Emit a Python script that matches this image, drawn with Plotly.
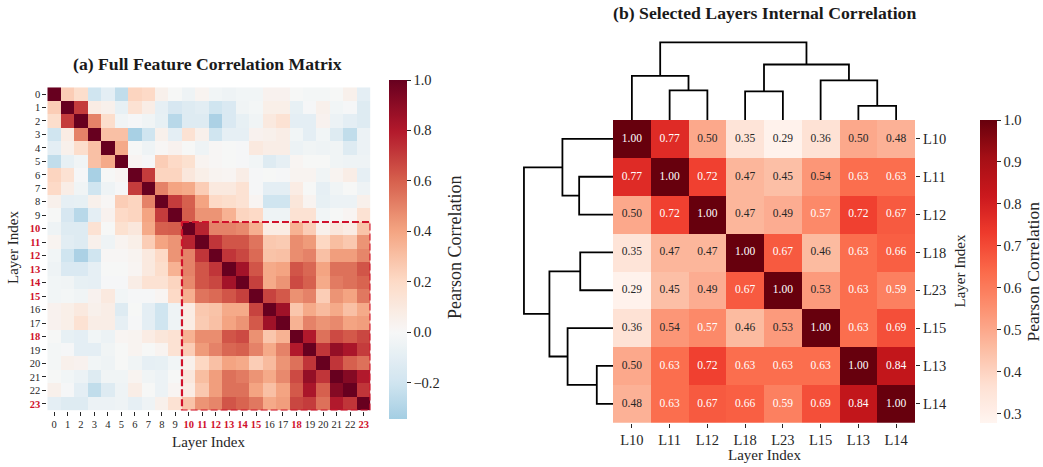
import plotly.graph_objects as go

W, H = 1043, 467
FONT = "Liberation Serif"
DARK = "#262626"
RED = "#d0112b"

# ---------------- data ----------------
layer_ticks = ["0", "1", "2", "3", "4", "5", "6", "7", "8", "9", "10", "11",
               "12", "13", "14", "15", "16", "17", "18", "19", "20", "21", "22", "23"]
selected_layers = ["10", "11", "12", "13", "14", "15", "18", "23"]

corr_full = [
    [1.00, 0.25, 0.18, -0.20, -0.10, -0.25, 0.22, 0.20, 0.05, 0.00, -0.05, 0.03, -0.03, -0.05, -0.03, -0.03, 0.04, 0.04, 0.00, -0.02, -0.02, 0.00, 0.05, -0.10],
    [0.25, 1.00, 0.70, 0.08, 0.05, -0.08, 0.15, 0.07, -0.09, -0.17, -0.13, -0.11, -0.20, -0.15, -0.04, -0.02, 0.06, 0.06, -0.08, -0.01, 0.05, -0.03, -0.01, -0.13],
    [0.18, 0.70, 1.00, 0.50, 0.18, -0.04, -0.01, -0.04, -0.08, -0.28, -0.13, -0.13, -0.32, -0.15, -0.08, -0.04, 0.10, 0.15, -0.10, -0.10, 0.04, -0.06, -0.10, -0.13],
    [-0.20, 0.08, 0.50, 1.00, 0.30, 0.30, -0.33, -0.20, 0.05, -0.10, 0.15, 0.05, -0.20, -0.09, -0.09, 0.04, 0.05, 0.07, -0.03, -0.10, -0.03, -0.13, -0.25, -0.06],
    [-0.10, 0.05, 0.18, 0.30, 1.00, 0.38, 0.00, -0.05, 0.01, 0.04, 0.00, -0.05, 0.01, 0.00, -0.01, 0.10, 0.07, 0.07, -0.06, -0.04, -0.05, -0.04, -0.13, -0.06],
    [-0.25, -0.08, -0.04, 0.30, 0.38, 1.00, 0.02, -0.01, 0.25, 0.20, 0.16, 0.03, 0.01, 0.00, -0.01, -0.03, -0.13, -0.09, 0.02, 0.00, 0.00, -0.04, -0.05, -0.05],
    [0.22, 0.15, -0.01, -0.33, 0.00, 0.02, 1.00, 0.70, 0.22, 0.22, 0.11, 0.06, 0.03, 0.02, 0.07, -0.01, 0.00, -0.01, 0.03, 0.03, -0.04, 0.03, 0.07, -0.09],
    [0.20, 0.07, -0.04, -0.20, -0.05, -0.01, 0.70, 1.00, 0.50, 0.40, 0.38, 0.25, 0.10, 0.10, 0.15, -0.01, -0.10, -0.10, 0.08, 0.00, -0.09, -0.04, 0.00, -0.05],
    [0.05, -0.09, -0.08, 0.05, 0.01, 0.25, 0.22, 0.50, 1.00, 0.70, 0.60, 0.40, 0.20, 0.18, 0.15, 0.02, -0.20, -0.20, 0.12, 0.03, -0.08, -0.06, -0.06, 0.05],
    [0.00, -0.17, -0.28, -0.10, 0.04, 0.20, 0.22, 0.40, 0.70, 1.00, 0.61, 0.45, 0.45, 0.35, 0.22, 0.20, -0.05, -0.05, 0.15, 0.15, -0.03, 0.00, 0.02, 0.15],
    [-0.05, -0.13, -0.13, 0.15, 0.00, 0.16, 0.11, 0.38, 0.60, 0.61, 1.00, 0.77, 0.50, 0.50, 0.48, 0.36, 0.08, 0.08, 0.35, 0.25, 0.05, 0.11, 0.08, 0.29],
    [0.03, -0.11, -0.13, 0.05, -0.05, 0.03, 0.06, 0.25, 0.40, 0.45, 0.77, 1.00, 0.72, 0.63, 0.63, 0.54, 0.27, 0.26, 0.47, 0.43, 0.21, 0.31, 0.27, 0.45],
    [-0.03, -0.20, -0.32, -0.20, 0.01, 0.01, 0.03, 0.10, 0.20, 0.45, 0.50, 0.72, 1.00, 0.72, 0.67, 0.57, 0.29, 0.30, 0.47, 0.50, 0.30, 0.42, 0.42, 0.49],
    [-0.05, -0.15, -0.15, -0.09, 0.00, 0.00, 0.02, 0.10, 0.18, 0.35, 0.50, 0.63, 0.72, 1.00, 0.84, 0.63, 0.38, 0.40, 0.63, 0.58, 0.40, 0.55, 0.55, 0.63],
    [-0.03, -0.04, -0.08, -0.09, -0.01, -0.01, 0.07, 0.15, 0.15, 0.22, 0.48, 0.63, 0.67, 0.84, 1.00, 0.69, 0.38, 0.45, 0.66, 0.60, 0.38, 0.52, 0.55, 0.59],
    [-0.03, -0.02, -0.04, 0.04, 0.10, -0.03, -0.01, -0.01, 0.02, 0.20, 0.36, 0.54, 0.57, 0.63, 0.69, 1.00, 0.68, 0.62, 0.46, 0.50, 0.25, 0.45, 0.40, 0.53],
    [0.04, 0.06, 0.10, 0.05, 0.07, -0.13, 0.00, -0.10, -0.20, -0.05, 0.08, 0.27, 0.29, 0.38, 0.38, 0.68, 1.00, 0.85, 0.28, 0.38, 0.32, 0.38, 0.30, 0.38],
    [0.04, 0.06, 0.15, 0.07, 0.07, -0.09, -0.01, -0.10, -0.20, -0.05, 0.08, 0.26, 0.30, 0.40, 0.45, 0.62, 0.85, 1.00, 0.35, 0.50, 0.45, 0.48, 0.40, 0.42],
    [0.00, -0.08, -0.10, -0.03, -0.06, 0.02, 0.03, 0.08, 0.12, 0.15, 0.35, 0.47, 0.47, 0.63, 0.66, 0.46, 0.28, 0.35, 1.00, 0.80, 0.55, 0.66, 0.62, 0.67],
    [-0.02, -0.01, -0.10, -0.10, -0.04, 0.00, 0.03, 0.00, 0.03, 0.15, 0.25, 0.43, 0.50, 0.58, 0.60, 0.50, 0.38, 0.50, 0.80, 1.00, 0.72, 0.88, 0.82, 0.70],
    [-0.02, 0.05, 0.04, -0.03, -0.05, 0.00, -0.04, -0.09, -0.08, -0.03, 0.05, 0.21, 0.30, 0.40, 0.38, 0.25, 0.32, 0.45, 0.55, 0.72, 1.00, 0.72, 0.60, 0.55],
    [0.00, -0.03, -0.06, -0.13, -0.04, -0.04, 0.03, -0.04, -0.06, 0.00, 0.11, 0.31, 0.42, 0.55, 0.52, 0.45, 0.38, 0.48, 0.66, 0.88, 0.72, 1.00, 0.92, 0.80],
    [0.05, -0.01, -0.10, -0.25, -0.13, -0.05, 0.07, 0.00, -0.06, 0.02, 0.08, 0.27, 0.42, 0.55, 0.55, 0.40, 0.30, 0.40, 0.62, 0.82, 0.60, 0.92, 1.00, 0.72],
    [-0.10, -0.13, -0.13, -0.06, -0.06, -0.05, -0.09, -0.05, 0.05, 0.15, 0.29, 0.45, 0.49, 0.63, 0.59, 0.53, 0.38, 0.42, 0.67, 0.70, 0.55, 0.80, 0.72, 1.00],
]
full_zmin, full_zmax = -0.345, 1.0
full_cbar_ticks = [-0.2, 0.0, 0.2, 0.4, 0.6, 0.8, 1.0]

sel_labels = ["L10", "L11", "L12", "L18", "L23", "L15", "L13", "L14"]
sel_corr = [
    [1.00, 0.77, 0.50, 0.35, 0.29, 0.36, 0.50, 0.48],
    [0.77, 1.00, 0.72, 0.47, 0.45, 0.54, 0.63, 0.63],
    [0.50, 0.72, 1.00, 0.47, 0.49, 0.57, 0.72, 0.67],
    [0.35, 0.47, 0.47, 1.00, 0.67, 0.46, 0.63, 0.66],
    [0.29, 0.45, 0.49, 0.67, 1.00, 0.53, 0.63, 0.59],
    [0.36, 0.54, 0.57, 0.46, 0.53, 1.00, 0.63, 0.69],
    [0.50, 0.63, 0.72, 0.63, 0.63, 0.63, 1.00, 0.84],
    [0.48, 0.63, 0.67, 0.66, 0.59, 0.69, 0.84, 1.00],
]
sel_zmin, sel_zmax = 0.278, 1.0
sel_cbar_ticks = [0.3, 0.4, 0.5, 0.6, 0.7, 0.8, 0.9, 1.0]

# linkage in display-leaf order: (child_a, child_b, merge height); new nodes numbered from 8
dendro_merges = [
    (1, 2, 0.380),
    (6, 7, 0.182),
    (3, 4, 0.368),
    (0, 8, 0.568),
    (5, 9, 0.510),
    (10, 12, 0.714),
    (11, 13, 1.000),
]

# ---------------- colour maps ----------------
RDBU_R = ["#053061", "#2166ac", "#4393c3", "#92c5de", "#d1e5f0", "#f7f7f7",
          "#fddbc7", "#f4a582", "#d6604d", "#b2182b", "#67001f"]
REDS = ["#fff5f0", "#fee0d2", "#fcbba1", "#fc9272", "#fb6a4a", "#ef3b2c",
        "#cb181d", "#a50f15", "#67000d"]


def _rgb(h):
    return tuple(int(h[i:i + 2], 16) for i in (1, 3, 5))


def _sample(colors, c):
    n = len(colors) - 1
    c = min(max(c, 0.0), 1.0)
    i = min(int(c * n), n - 1)
    t = c * n - i
    a, b = _rgb(colors[i]), _rgb(colors[i + 1])
    return "rgb(%d,%d,%d)" % tuple(round(a[k] + (b[k] - a[k]) * t) for k in range(3))


def make_scale(colors, c0, c1, n=60):
    return [[i / (n - 1), _sample(colors, c0 + (c1 - c0) * i / (n - 1))] for i in range(n)]


# diverging map centred on 0 (seaborn center=0)
full_scale = make_scale(RDBU_R, 0.5 + full_zmin / 2, 0.5 + full_zmax / 2)
sel_scale = make_scale(REDS, 0.0, 1.0)


def dendro_segments(merges, n):
    pos = {i: float(i) for i in range(n)}
    hgt = {i: 0.0 for i in range(n)}
    xs, ys = [], []
    for k, (a, b, h) in enumerate(merges):
        xs += [pos[a], pos[a], pos[b], pos[b], None]
        ys += [hgt[a], h, h, hgt[b], None]
        pos[n + k] = (pos[a] + pos[b]) / 2
        hgt[n + k] = h
    return xs, ys


# ---------------- layout geometry (pixels) ----------------
def px_x(p):
    return p / W


def px_y(p):
    return 1 - p / H


A_L, A_R, A_T, A_B = 47.3, 370.5, 87.3, 410.6
B_L, B_R, B_T, B_B = 613.0, 915.0, 120.0, 422.7
DEN_TOP = 38.4
DEN_LEFT = 519.5

fig = go.Figure()

n_full = len(layer_ticks)
fig.add_trace(go.Heatmap(
    z=corr_full, x=list(range(n_full)), y=list(range(n_full)),
    xaxis="x", yaxis="y",
    colorscale=full_scale, zmin=full_zmin, zmax=full_zmax,
    hoverinfo="skip",
    colorbar=dict(
        x=px_x(389), xanchor="left", y=px_y(249.5), yanchor="middle",
        len=339 / H, lenmode="fraction", thickness=17.7, thicknessmode="pixels",
        xpad=0, ypad=0, outlinewidth=0,
        tickvals=full_cbar_ticks, tickformat=".1f",
        ticks="outside", ticklen=4, tickwidth=1, tickcolor=DARK,
        tickfont=dict(family=FONT, size=14.5, color=DARK),
    ),
))

n_sel = len(sel_labels)
fig.add_trace(go.Heatmap(
    z=sel_corr, x=list(range(n_sel)), y=list(range(n_sel)),
    xaxis="x2", yaxis="y2",
    colorscale=sel_scale, zmin=sel_zmin, zmax=sel_zmax,
    hoverinfo="skip",
    colorbar=dict(
        x=px_x(980), xanchor="left", y=px_y(271.5), yanchor="middle",
        len=(423.3 - 120) / H, lenmode="fraction", thickness=16.5, thicknessmode="pixels",
        xpad=0, ypad=0, outlinewidth=0,
        tickvals=sel_cbar_ticks, tickformat=".1f",
        ticks="outside", ticklen=4, tickwidth=1, tickcolor=DARK,
        tickfont=dict(family=FONT, size=14.5, color=DARK),
    ),
))

# cell annotations
tx, ty, tt, tc = [], [], [], []
for i, row in enumerate(sel_corr):
    for j, v in enumerate(row):
        tx.append(j)
        ty.append(i)
        tt.append("%.2f" % v)
        tc.append("white" if v > 0.555 else DARK)
fig.add_trace(go.Scatter(
    x=tx, y=ty, text=tt, mode="text", xaxis="x2", yaxis="y2",
    textfont=dict(family=FONT, size=11.5, color=tc),
    hoverinfo="skip", showlegend=False,
))

# dendrograms
dx, dy = dendro_segments(dendro_merges, n_sel)
fig.add_trace(go.Scatter(x=dx, y=dy, mode="lines", xaxis="x3", yaxis="y3",
                         line=dict(color="black", width=1.8), hoverinfo="skip",
                         showlegend=False))
fig.add_trace(go.Scatter(x=dy, y=dx, mode="lines", xaxis="x4", yaxis="y4",
                         line=dict(color="black", width=1.8), hoverinfo="skip",
                         showlegend=False))

# tick labels for panel (a)
tick_text = []
for t in layer_ticks:
    if t in selected_layers:
        tick_text.append('<span style="color:%s"><b>%s</b></span>' % (RED, t))
    else:
        tick_text.append(t)

axis_common = dict(showgrid=False, zeroline=False, showline=False)
tickfont_small = dict(family=FONT, size=10.5, color=DARK)
tickfont_big = dict(family=FONT, size=14.5, color=DARK)

fig.update_layout(
    width=W, height=H,
    margin=dict(l=0, r=0, t=0, b=0),
    paper_bgcolor="white", plot_bgcolor="white",
    showlegend=False,
    font=dict(family=FONT, color=DARK),
    xaxis=dict(domain=[px_x(A_L), px_x(A_R)], range=[-0.5, n_full - 0.5],
               tickvals=list(range(n_full)), ticktext=tick_text, tickangle=0,
               ticks="outside", ticklen=4, tickwidth=1, tickcolor=DARK,
               tickfont=tickfont_small, anchor="y", **axis_common),
    yaxis=dict(domain=[px_y(A_B), px_y(A_T)], range=[n_full - 0.5, -0.5],
               tickvals=list(range(n_full)), ticktext=tick_text,
               ticks="outside", ticklen=4, tickwidth=1, tickcolor=DARK,
               tickfont=tickfont_small, anchor="x", **axis_common),
    xaxis2=dict(domain=[px_x(B_L), px_x(B_R)], range=[-0.5, n_sel - 0.5],
                tickvals=list(range(n_sel)), ticktext=sel_labels, tickangle=0,
                ticks="outside", ticklen=4, tickwidth=1, tickcolor=DARK,
                tickfont=tickfont_big, anchor="y2", **axis_common),
    yaxis2=dict(domain=[px_y(B_B), px_y(B_T)], range=[n_sel - 0.5, -0.5],
                tickvals=list(range(n_sel)), ticktext=sel_labels, side="right",
                ticks="outside", ticklen=4, tickwidth=1, tickcolor=DARK,
                tickfont=tickfont_big, anchor="x2", **axis_common),
    xaxis3=dict(domain=[px_x(B_L), px_x(B_R)], range=[-0.5, n_sel - 0.5],
                visible=False, anchor="y3", **axis_common),
    yaxis3=dict(domain=[px_y(B_T), px_y(DEN_TOP)], range=[0, 1.05],
                visible=False, anchor="x3", **axis_common),
    xaxis4=dict(domain=[px_x(DEN_LEFT), px_x(B_L)], range=[1.05, 0],
                visible=False, anchor="y4", **axis_common),
    yaxis4=dict(domain=[px_y(B_B), px_y(B_T)], range=[n_sel - 0.5, -0.5],
                visible=False, anchor="x4", **axis_common),
)

# red dashed highlight box
i0 = layer_ticks.index(selected_layers[0])
fig.add_shape(type="rect", xref="x", yref="y",
              x0=i0 - 0.5, x1=n_full - 0.5, y0=i0 - 0.5, y1=n_full - 0.5,
              line=dict(color=RED, width=2.2, dash="7px,3px"), fillcolor="rgba(0,0,0,0)")


def ann(text, x, y, size, angle=0, bold=False):
    fig.add_annotation(
        text="<b>%s</b>" % text if bold else text,
        x=px_x(x), y=px_y(y), xref="paper", yref="paper",
        xanchor="center", yanchor="middle", showarrow=False, textangle=angle,
        font=dict(family=FONT, size=size, color="#1a1a1a" if bold else DARK),
    )


ann("(a) Full Feature Correlation Matrix", 207.7, 64.5, 17.7, bold=True)
ann("(b) Selected Layers Internal Correlation", 764, 13, 17.7, bold=True)
ann("Layer Index", 208.5, 441.7, 15)
ann("Layer Index", 13, 248, 15, angle=-90)
ann("Pearson Correlation", 455, 248, 18, angle=-90)
ann("Layer Index", 764, 455, 15)
ann("Layer Index", 959, 271.5, 15, angle=-90)
ann("Pearson Correlation", 1032.5, 272, 17.5, angle=-90)

# place the figure at the page's top-left corner (remove the default body margin)
fig.write_html("out.html",
               config={"displayModeBar": False, "staticPlot": True},
               post_script="document.body.style.margin='0';document.body.style.overflow='hidden';")
